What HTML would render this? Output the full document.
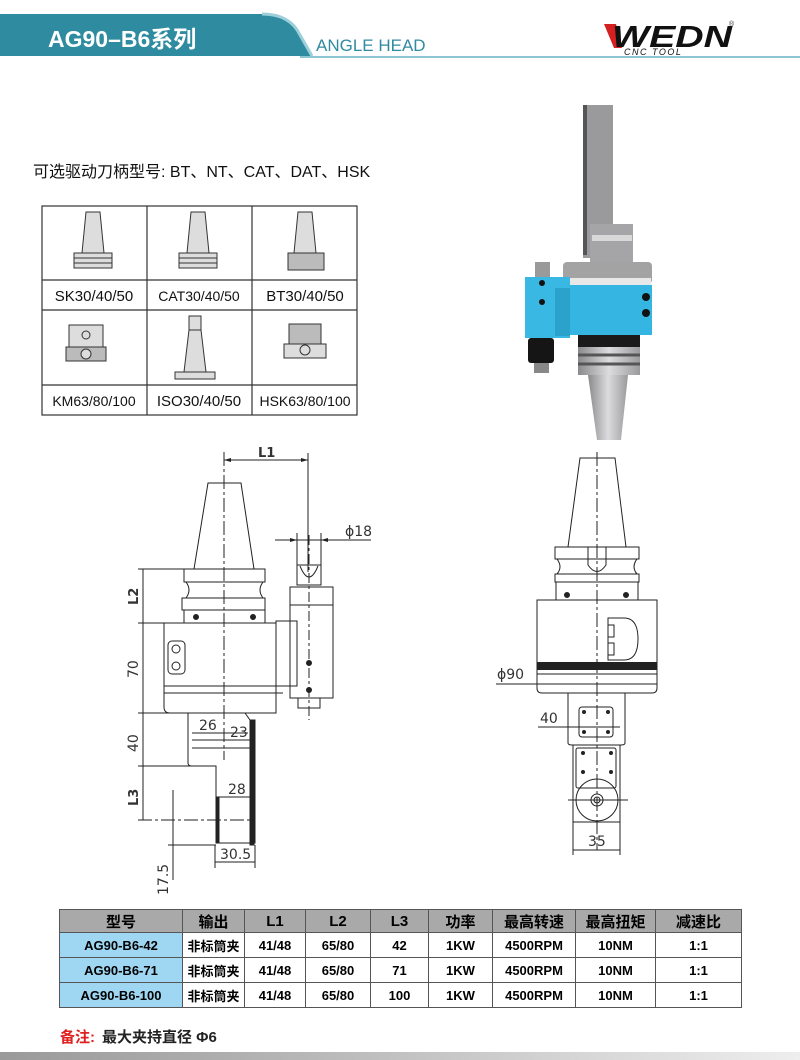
<!DOCTYPE html>
<html><head><meta charset="utf-8"><style>
html,body{margin:0;padding:0;background:#fff;}
body{width:800px;height:1060px;position:relative;overflow:hidden;font-family:"Liberation Sans","Noto Sans CJK SC",sans-serif;}
.abs{position:absolute;}
table.t{position:absolute;left:59px;top:909px;border-collapse:collapse;font-size:13px;font-weight:bold;}
table.t td{border:1px solid #555;text-align:center;padding:0;height:24px;}
table.t tr.h td{background:#a9a9a9;font-size:15px;height:22px;}
table.t td.b{background:#9fd6f2;}
</style></head><body>
<svg class="abs" style="left:0;top:0" width="800" height="1060" xmlns="http://www.w3.org/2000/svg">
<path d="M0 14 H262 Q290 14 300 35 L312 56 H0 Z" fill="#2f8ba0"/>
<path d="M262 14 Q290 14 300 35 L312 56" fill="none" stroke="#9ccfd9" stroke-width="3"/>
<line x1="300" y1="57" x2="800" y2="57" stroke="#8ec5d2" stroke-width="2"/>
<text x="48" y="47" font-size="23" font-weight="bold" fill="#fff" font-family="Liberation Sans,Noto Sans CJK SC,sans-serif">AG90–B6系列</text>
<text x="316" y="51" font-size="17" fill="#2f8ba0" font-family="Liberation Sans,sans-serif">ANGLE HEAD</text>
<path d="M604 24 L616 24 L622 48 L614 48 Z" fill="#d42020"/>
<text x="612" y="47" font-size="31" font-weight="bold" font-style="italic" fill="#111" font-family="Liberation Sans,sans-serif" textLength="120" lengthAdjust="spacingAndGlyphs">WEDN</text>
<text x="624" y="55" font-size="9" font-style="italic" fill="#111" font-family="Liberation Sans,sans-serif" letter-spacing="1.5">CNC TOOL</text>
<text x="729" y="26" font-size="7" fill="#333">®</text>
<text x="33" y="177" font-size="16" fill="#111" font-family="Liberation Sans,Noto Sans CJK SC,sans-serif">可选驱动刀柄型号: BT、NT、CAT、DAT、HSK</text>
<g stroke="#333" stroke-width="1.2" fill="none">
<rect x="42" y="206" width="315" height="209"/>
<line x1="147" y1="206" x2="147" y2="415"/><line x1="252" y1="206" x2="252" y2="415"/>
<line x1="42" y1="280" x2="357" y2="280"/><line x1="42" y1="310" x2="357" y2="310"/><line x1="42" y1="385" x2="357" y2="385"/>
</g>
<g font-size="15" fill="#111" font-family="Liberation Sans,sans-serif" text-anchor="middle">
<text x="94" y="301">SK30/40/50</text><text x="199" y="301" font-size="14">CAT30/40/50</text><text x="305" y="301">BT30/40/50</text>
<text x="94" y="406" font-size="14">KM63/80/100</text><text x="199" y="406">ISO30/40/50</text><text x="305" y="406" font-size="14">HSK63/80/100</text>
</g>
<g fill="#ddd" stroke="#333" stroke-width="1">
<path d="M86 212 H100 L104 253 H82 Z"/><rect x="74" y="253" width="38" height="15"/><line x1="74" y1="258" x2="112" y2="258"/><line x1="74" y1="263" x2="112" y2="263"/>
<path d="M191 212 H205 L209 253 H187 Z"/><rect x="179" y="253" width="38" height="15"/><line x1="179" y1="258" x2="217" y2="258"/><line x1="179" y1="263" x2="217" y2="263"/>
<path d="M298 212 H312 L316 253 H294 Z"/><rect x="288" y="253" width="36" height="17" fill="#bbb"/>
<rect x="69" y="325" width="34" height="22"/><rect x="66" y="347" width="40" height="14" fill="#bbb"/><circle cx="86" cy="335" r="4"/><circle cx="86" cy="354" r="5"/>
<rect x="189" y="316" width="12" height="14"/><path d="M189 330 H201 L206 372 H184 Z"/><rect x="175" y="372" width="40" height="7"/>
<rect x="289" y="324" width="32" height="24" fill="#bbb"/><rect x="284" y="344" width="42" height="14"/><circle cx="305" cy="350" r="5"/>
</g>
<defs>
<linearGradient id="g" x1="0" x2="1"><stop offset="0" stop-color="#9a9a9a"/><stop offset="0.3" stop-color="#b0b0b0"/><stop offset="1" stop-color="#eeeeee"/></linearGradient>
<linearGradient id="tp" x1="0" x2="1"><stop offset="0" stop-color="#8a8a8c"/><stop offset="0.5" stop-color="#dcdcde"/><stop offset="1" stop-color="#9a9a9c"/></linearGradient>
</defs>
<rect x="583" y="105" width="30" height="153" fill="#9a9a9c"/>
<rect x="583" y="105" width="4" height="150" fill="#555"/>
<rect x="590" y="224" width="43" height="40" fill="#a5a5a7"/>
<rect x="592" y="235" width="40" height="6" fill="#d8d8d8"/>
<rect x="563" y="262" width="89" height="22" rx="4" fill="#a3a3a3"/>
<rect x="566" y="278" width="85" height="7" fill="#e8e8e8"/>
<rect x="565" y="285" width="87" height="50" fill="#35b6e2"/>
<rect x="535" y="262" width="15" height="16" fill="#9a9a9a"/>
<rect x="525" y="277" width="45" height="61" fill="#3ab8e4"/>
<rect x="555" y="288" width="15" height="48" fill="#2aa2cc"/>
<circle cx="542" cy="283" r="3" fill="#111"/><circle cx="542" cy="302" r="3" fill="#111"/>
<circle cx="646" cy="297" r="4" fill="#111"/><circle cx="646" cy="313" r="4" fill="#111"/>
<rect x="528" y="338" width="26" height="25" rx="3" fill="#151515"/>
<rect x="534" y="363" width="15" height="10" fill="#888"/>
<rect x="578" y="335" width="62" height="12" fill="#1a1a1a"/>
<rect x="578" y="347" width="62" height="28" fill="url(#tp)"/>
<line x1="578" y1="355" x2="640" y2="355" stroke="#555" stroke-width="3"/><line x1="578" y1="364" x2="640" y2="364" stroke="#555" stroke-width="3"/>
<path d="M588 375 H628 L621 440 H597 Z" fill="url(#tp)"/>
<g stroke="#222" stroke-width="1" fill="none">
<line x1="224" y1="452" x2="224" y2="760" stroke-dasharray="14,3,3,3"/>
<line x1="308" y1="453" x2="308" y2="572"/>
<line x1="224" y1="460" x2="308" y2="460"/>
<path d="M208 483 H241 L254 569 H194 Z"/>
<rect x="184" y="569" width="81" height="13"/>
<path d="M186 582 Q192 590 186 598 H263 Q257 590 263 582"/>
<rect x="182" y="598" width="83" height="12"/>
<rect x="184" y="610" width="81" height="13"/>
<circle cx="196" cy="617" r="2.5" fill="#222"/><circle cx="253" cy="617" r="2.5" fill="#222"/>
<path d="M164 623 H276 V713 H170 Q164 713 164 707 Z"/>
<rect x="276" y="621" width="21" height="65"/>
<rect x="168" y="641" width="17" height="33" rx="4"/>
<circle cx="176" cy="649" r="4"/><circle cx="176" cy="666" r="4"/>
<line x1="164" y1="686" x2="283" y2="686"/><line x1="164" y1="693" x2="283" y2="693"/>
<path d="M297 565 H321 V585 H297 Z"/><path d="M300 566 Q309 588 318 566"/>
<rect x="290" y="587" width="43" height="18"/>
<rect x="290" y="605" width="43" height="93"/>
<circle cx="309" cy="663" r="2.5" fill="#222"/><circle cx="309" cy="690" r="2.5" fill="#222"/>
<rect x="298" y="698" width="22" height="10"/>
<line x1="309" y1="535" x2="309" y2="720" stroke-dasharray="10,3,3,3"/>
<path d="M188 713 V763 Q188 766 192 766 H216 V843 H255 V720 H250 L245 713"/>
<line x1="192" y1="733" x2="248" y2="733"/><line x1="192" y1="748" x2="250" y2="748"/>
<rect x="250" y="720" width="4" height="125" fill="#222"/>
<rect x="216" y="797" width="3" height="46" fill="#222"/>
<line x1="297" y1="533" x2="297" y2="565"/><line x1="321" y1="533" x2="321" y2="565"/>
<line x1="275" y1="540" x2="371" y2="540"/>
<line x1="138" y1="569" x2="194" y2="569"/><line x1="138" y1="623" x2="164" y2="623"/><line x1="138" y1="713" x2="188" y2="713"/><line x1="138" y1="766" x2="216" y2="766"/><line x1="138" y1="820" x2="255" y2="820" stroke-dasharray="14,3,3,3"/>
<line x1="143" y1="569" x2="143" y2="820"/>
<line x1="173" y1="790" x2="173" y2="880"/><line x1="168" y1="845" x2="216" y2="845"/>
<line x1="215" y1="845" x2="215" y2="868"/><line x1="255" y1="845" x2="255" y2="868"/><line x1="215" y1="862" x2="255" y2="862"/>
<line x1="192" y1="740" x2="250" y2="740"/><line x1="217" y1="797" x2="251" y2="797"/>
</g>
<g fill="#222">
<path d="M224 460 l7 -2 v4z M308 460 l-7 -2 v4z M297 540 l-7 -2 v4z M321 540 l7 -2 v4z"/>
</g>
<g font-size="14" fill="#333" font-family="DejaVu Sans,Liberation Sans,sans-serif">
<text x="258" y="457" font-weight="bold" font-size="13">L1</text>
<text x="345" y="536">ϕ18</text>
<text x="199" y="730">26</text><text x="230" y="737">23</text><text x="228" y="794">28</text><text x="220" y="859">30.5</text>
<text transform="translate(138,605) rotate(-90)" font-weight="bold" font-size="13">L2</text>
<text transform="translate(138,678) rotate(-90)">70</text>
<text transform="translate(138,752) rotate(-90)">40</text>
<text transform="translate(138,806) rotate(-90)" font-weight="bold" font-size="13">L3</text>
<text transform="translate(168,895) rotate(-90)">17.5</text>
</g>
<g stroke="#222" stroke-width="1" fill="none">
<line x1="597" y1="452" x2="597" y2="850" stroke-dasharray="14,3,3,3"/>
<path d="M580 458 H615 L626 547 H568 Z"/>
<rect x="555" y="547" width="84" height="12"/>
<path d="M557 559 Q563 567 557 574 H637 Q631 567 637 559"/>
<rect x="555" y="574" width="84" height="8"/>
<rect x="556" y="582" width="82" height="18"/>
<path d="M588 547 V565 Q597 578 606 565 V547"/>
<circle cx="567" cy="595" r="2.5" fill="#222"/><circle cx="626" cy="595" r="2.5" fill="#222"/>
<path d="M537 600 H657 V688 Q657 693 652 693 H542 Q537 693 537 688 Z"/>
<line x1="537" y1="674" x2="657" y2="674"/>
<path d="M608 618 H624 Q638 618 638 639 Q638 660 624 660 H608 Z"/>
<rect x="608" y="625" width="6" height="12"/><rect x="608" y="643" width="6" height="12"/>
<path d="M568 693 V743 Q568 745 572 745 H621 Q625 745 625 743 V693"/>
<rect x="579" y="707" width="34" height="30" rx="3"/>
<rect x="573" y="745" width="47" height="77"/>
<rect x="576" y="748" width="40" height="40" rx="2"/>
<circle cx="597" cy="800" r="21"/><circle cx="597" cy="800" r="6"/><circle cx="597" cy="800" r="3"/>
<line x1="568" y1="800" x2="628" y2="800"/>
<line x1="496" y1="684" x2="657" y2="684"/>
<line x1="538" y1="727" x2="620" y2="727"/>
<line x1="573" y1="822" x2="573" y2="855"/><line x1="620" y1="822" x2="620" y2="855"/><line x1="573" y1="850" x2="620" y2="850"/>
</g>
<rect x="537" y="662" width="120" height="8" fill="#222"/>
<g fill="#222">
<circle cx="584" cy="712" r="2"/><circle cx="608" cy="712" r="2"/><circle cx="584" cy="732" r="2"/><circle cx="608" cy="732" r="2"/>
<circle cx="583" cy="753" r="2"/><circle cx="611" cy="753" r="2"/><circle cx="583" cy="772" r="2"/><circle cx="611" cy="772" r="2"/>
</g>
<g font-size="14" fill="#333" font-family="DejaVu Sans,Liberation Sans,sans-serif">
<text x="497" y="679">ϕ90</text><text x="540" y="723">40</text><text x="588" y="846">35</text>
</g>
<rect x="0" y="1052" width="800" height="8" fill="url(#g)"/>
<text x="60" y="1042" font-size="15" font-weight="bold" fill="#e02020" font-family="Liberation Sans,Noto Sans CJK SC,sans-serif">备注:</text>
<text x="102" y="1042" font-size="15" font-weight="bold" fill="#222" font-family="Liberation Sans,Noto Sans CJK SC,sans-serif">最大夹持直径 Φ6</text>
</svg>
<table class="t">
<colgroup><col style="width:123px"><col style="width:62px"><col style="width:61px"><col style="width:65px"><col style="width:58px"><col style="width:64px"><col style="width:83px"><col style="width:80px"><col style="width:86px"></colgroup>
<tr class="h"><td>型号</td><td>输出</td><td>L1</td><td>L2</td><td>L3</td><td>功率</td><td>最高转速</td><td>最高扭矩</td><td>减速比</td></tr>
<tr><td class="b">AG90-B6-42</td><td>非标筒夹</td><td>41/48</td><td>65/80</td><td>42</td><td>1KW</td><td>4500RPM</td><td>10NM</td><td>1:1</td></tr>
<tr><td class="b">AG90-B6-71</td><td>非标筒夹</td><td>41/48</td><td>65/80</td><td>71</td><td>1KW</td><td>4500RPM</td><td>10NM</td><td>1:1</td></tr>
<tr><td class="b">AG90-B6-100</td><td>非标筒夹</td><td>41/48</td><td>65/80</td><td>100</td><td>1KW</td><td>4500RPM</td><td>10NM</td><td>1:1</td></tr>
</table>
</body></html>
